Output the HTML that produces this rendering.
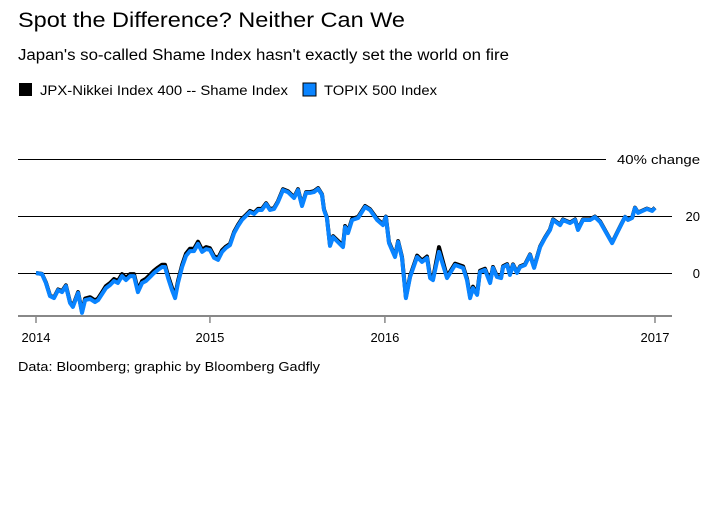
<!DOCTYPE html>
<html><head><meta charset="utf-8">
<style>
body{margin:0;background:#fff;font-family:"Liberation Sans",sans-serif;}
#wrap{position:relative;width:720px;height:522px;overflow:hidden;}
</style></head>
<body>
<div id="wrap">
<svg id="chart" width="720" height="522" xmlns="http://www.w3.org/2000/svg">
  <text x="18" y="27" font-size="21" fill="#000" textLength="387" lengthAdjust="spacingAndGlyphs">Spot the Difference? Neither Can We</text>
  <text x="18" y="60" font-size="15.5" fill="#000" textLength="491" lengthAdjust="spacingAndGlyphs">Japan's so-called Shame Index hasn't exactly set the world on fire</text>
  <g>
    <rect x="19" y="83" width="13" height="13" fill="#000"/>
    <text x="40" y="95" font-size="13.5" textLength="248" lengthAdjust="spacingAndGlyphs">JPX-Nikkei Index 400 -- Shame Index</text>
    <rect x="303" y="83" width="13" height="13" fill="#0a84ff" stroke="#000" stroke-width="1"/>
    <text x="324" y="95" font-size="13.5" textLength="113" lengthAdjust="spacingAndGlyphs">TOPIX 500 Index</text>
  </g>
  <g id="grid"></g>
  <g id="series"></g>
  <line x1="18" y1="316" x2="672" y2="316" stroke="#888" stroke-width="2"/>
  <g id="xaxis"></g>
  <text x="18" y="371" font-size="13" textLength="302" lengthAdjust="spacingAndGlyphs">Data: Bloomberg; graphic by Bloomberg Gadfly</text>
</svg>
</div>
<script>
const yearsSince2014=[0,.029,.048,.068,.087,.107,.126,.145,.165,.179,.204,.223,.238,.262,.286,.301,.320,.339,.359,.378,.397,.417,.436,.456,.475,.494,.514,.533,.553,.572,.591,.611,.625,.640,.659,.674,.688,.708,.727,.746,.766,.785,.805,.824,.843,.863,.882,.902,.921,.940,.960,.979,.998,1.018,1.037,1.057,1.076,1.095,1.115,1.134,1.154,1.173,1.197,1.221,1.251,1.270,1.289,1.309,1.328,1.347,1.367,1.386,1.396,1.410,1.425,1.440,1.459,1.488,1.498,1.512,1.532,1.561,1.595,1.619,1.653,1.682,1.696,1.711,1.740,1.755,1.774,1.793,1.813,1.847,1.871,1.895,1.910,1.924,1.953,1.992,2.031,2.070,2.089,2.104,2.118,2.138,2.152,2.176,2.201,2.215,2.234,2.254,2.264,2.283,2.297,2.312,2.331,2.346,2.370,2.394,2.414,2.443,2.467,2.491,2.506,2.540,2.554,2.588,2.613,2.627,2.651,2.685,2.709,2.734,2.792,2.816,2.840,2.855,2.869,2.889,2.903,2.918,2.961,2.986,3.000];
const topixValues=[0.0,-0.4,-3.5,-8.1,-8.8,-6.0,-6.7,-4.6,-10.5,-11.9,-7.0,-14.0,-9.5,-9.1,-10.2,-9.5,-7.4,-5.3,-4.2,-2.8,-3.5,-1.1,-2.5,-1.1,-1.1,-6.7,-3.5,-2.8,-1.4,0.0,1.1,2.1,2.1,-1.8,-6.0,-8.8,-3.5,2.1,6.0,7.7,7.7,10.2,7.4,8.4,8.1,5.3,4.6,7.4,8.8,9.8,14.0,16.5,18.6,20.0,21.4,20.7,22.1,22.1,24.2,22.1,22.5,24.9,29.1,28.4,26.3,29.1,23.5,28.1,28.1,28.4,29.5,27.4,22.1,19.3,9.5,12.6,11.2,9.1,16.1,14.0,18.6,19.3,23.2,22.1,18.6,16.8,19.6,10.5,5.6,10.9,5.3,-8.8,-1.4,5.6,3.9,5.3,-1.8,-2.5,7.4,-1.8,2.8,1.8,-2.5,-8.8,-5.3,-7.7,0.4,1.1,-3.5,1.8,-1.4,-1.8,2.1,2.8,-0.7,2.8,0.0,2.1,2.8,6.3,1.8,9.1,12.3,15.1,18.6,16.8,18.6,17.5,18.6,15.1,18.6,18.6,19.6,17.9,10.5,14.0,17.5,19.6,18.6,19.3,22.8,21.1,22.5,21.8,22.8];
const jpxValues=[0.0,-0.3,-3.3,-7.9,-8.6,-5.8,-6.4,-4.3,-10.2,-11.6,-6.7,-13.6,-9.0,-8.5,-9.6,-8.9,-6.8,-4.6,-3.5,-2.1,-2.8,-0.4,-1.8,-0.4,-0.4,-6.0,-2.8,-2.0,-0.6,0.8,1.9,2.9,2.9,-1.0,-5.2,-8.1,-2.8,2.8,6.8,8.5,8.5,11.0,8.1,9.1,8.7,5.9,5.2,8.0,9.3,10.2,14.4,16.9,19.0,20.4,21.8,21.1,22.5,22.5,24.5,22.4,22.8,25.2,29.4,28.7,26.6,29.4,23.8,28.4,28.4,28.7,29.8,27.6,22.3,19.5,9.8,12.9,11.6,9.6,16.5,14.5,19.0,19.7,23.5,22.4,18.9,17.1,19.8,10.8,5.9,11.2,5.6,-8.5,-1.0,6.1,4.4,5.8,-1.3,-2.0,9.1,-1.3,3.3,2.3,-2.0,-8.3,-4.8,-7.3,0.8,1.5,-3.1,2.1,-1.1,-1.5,2.4,3.1,-0.4,3.0,0.2,2.3,3.0,6.5,2.0,9.3,12.5,15.3,18.8,17.0,18.8,17.7,18.8,15.3,18.8,18.8,19.8,18.1,10.6,14.1,17.6,19.7,18.7,19.4,22.9,21.2,22.6,21.9,22.9];
const yTickValues=[0,20,40];
const yTickLabels=["0","20","40% change"];
const xTickYears=[0,0.843,1.691,3.0];
const xTickLabels=["2014","2015","2016","2017"];

const NS="http://www.w3.org/2000/svg";
const xScale=t=>36+t*206.33;
const yScale=v=>273-v*2.85;
function mk(tag,attrs,parent){const e=document.createElementNS(NS,tag);for(const k in attrs)e.setAttribute(k,attrs[k]);parent.appendChild(e);return e;}

const grid=document.getElementById('grid');
yTickValues.forEach((v,i)=>{
  const last=i===yTickValues.length-1;
  const y=Math.round(yScale(v))+0.5;
  const ln=mk('line',{x1:18,x2:last?606:672,y1:y,y2:y,stroke:'#000','stroke-width':1},grid);
  
  
  const attrs={x:700,y:yScale(v)+5,'font-size':13,'text-anchor':'end'};
  if(last){attrs.textLength=83;attrs.lengthAdjust='spacingAndGlyphs';}
  const tx=mk('text',attrs,grid);
  tx.textContent=yTickLabels[i];
  
  
});

const xa=document.getElementById('xaxis');
xTickYears.forEach((t,i)=>{
  const tk=mk('line',{x1:xScale(t),x2:xScale(t),y1:316,y2:323,stroke:'#888','stroke-width':1.5},xa);
  
  
  const tx=mk('text',{x:xScale(t),y:342,'font-size':13,'text-anchor':'middle'},xa);
  tx.textContent=xTickLabels[i];
  
  
});

const sg=document.getElementById('series');
function pathFor(vals){return vals.map((v,i)=>(i?'L':'M')+xScale(yearsSince2014[i]).toFixed(1)+','+yScale(v).toFixed(1)).join('');}
const p1=mk('path',{d:pathFor(jpxValues),fill:'none',stroke:'#000','stroke-width':4,'stroke-linejoin':'round'},sg);


const p2=mk('path',{d:pathFor(topixValues),fill:'none',stroke:'#0a84ff','stroke-width':4,'stroke-linejoin':'round'},sg);


</script>
</body></html>
